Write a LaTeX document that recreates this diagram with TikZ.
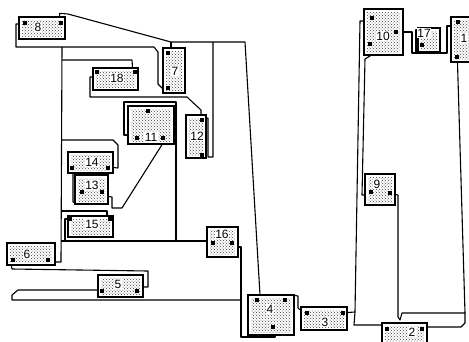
\documentclass[tikz,border=0pt]{standalone}
\usepackage{fontspec}
\setmainfont{Liberation Sans}
\usepackage{tikz}
\usetikzlibrary{patterns,backgrounds}

\begin{document}
\begin{tikzpicture}[x=1pt, y=-1pt,
		blk/.style={draw, line width=1.3pt, fill=white, inner sep=0pt,
								path picture={\fill[pattern=crosshatch dots, pattern color=black!75]
									([xshift=3pt,yshift=-3pt]path picture bounding box.north west) rectangle
									([xshift=-3pt,yshift=3pt]path picture bounding box.south east);}},
		pin/.style={fill=black, inner sep=0pt, minimum size=3.5pt},
		num/.style={fill=white, inner sep=0.6pt, font=\fontsize{12}{12}\selectfont},
		wire/.style={line width=1.1pt, line join=round},
	]
		\useasboundingbox (0,0) rectangle (469,341);

		% blocks
		\node[blk, minimum width=46pt, minimum height=22pt] (b8) at (42,28) {};
		\node[blk, minimum width=22pt, minimum height=45pt] (b7) at (174,70.5) {};
		\node[blk, minimum width=45pt, minimum height=22pt] (b18) at (115.5,79) {};
		\node[blk, minimum width=46pt, minimum height=38pt] (b11) at (151,125) {};
		\node[blk, minimum width=20pt, minimum height=43pt] (b12) at (196,136.5) {};
		\node[blk, minimum width=45pt, minimum height=21pt] (b14) at (90.5,162.5) {};
		\node[blk, minimum width=33pt, minimum height=29pt] (b13) at (91.5,189.5) {};
		\node[blk, minimum width=45pt, minimum height=21pt] (b15) at (90.5,226.5) {};
		\node[blk, minimum width=31pt, minimum height=30pt] (b16) at (222.5,242) {};
		\node[blk, minimum width=48pt, minimum height=22pt] (b6) at (31,254) {};
		\node[blk, minimum width=45pt, minimum height=22pt] (b5) at (120.5,286) {};
		\node[blk, minimum width=46pt, minimum height=40pt] (b4) at (271,315) {};
		\node[blk, minimum width=46pt, minimum height=23pt] (b3) at (324,318.5) {};
		\node[blk, minimum width=45pt, minimum height=23pt] (b2) at (404.5,334.5) {};
		\node[blk, minimum width=30pt, minimum height=31pt] (b9) at (380,189.5) {};
		\node[blk, minimum width=39pt, minimum height=46pt] (b10) at (383.5,32) {};
		\node[blk, minimum width=22pt, minimum height=24pt] (b17) at (429,40) {};
		\node[blk, minimum width=25pt, minimum height=45pt] (b1) at (463.5,39.5) {};

		% numbers
		\node[num] (l8) at (38,27) {8};
		\node[num] (l7) at (175,71) {7};
		\node[num] (l18) at (117,78) {18};
		\node[num] (l11) at (151,137) {11};
		\node[num] (l12) at (197,136) {12};
		\node[num] (l14) at (92,162) {14};
		\node[num] (l13) at (92,185) {13};
		\node[num] (l15) at (92,224) {15};
		\node[num] (l16) at (222,234) {16};
		\node[num] (l6) at (27,254) {6};
		\node[num] (l5) at (118,284) {5};
		\node[num] (l4) at (270,309) {4};
		\node[num] (l3) at (325,322) {3};
		\node[num] (l2) at (412,332) {2};
		\node[num] (l9) at (377,184) {9};
		\node[num] (l10) at (383,36) {10};
		\node[num] (l17) at (424,33) {17};
		\node[num] (l1) at (464,38) {1};

		% pins
		\node[pin] (p8a) at (25,23) {};
		\node[pin] (p8b) at (61,23) {};
		\node[pin] (p7a) at (168,53) {};
		\node[pin] (p7b) at (168,88) {};
		\node[pin] (p18a) at (97,72) {};
		\node[pin] (p18b) at (135,72) {};
		\node[pin] (p11a) at (148,111) {};
		\node[pin] (p11b) at (137,138) {};
		\node[pin] (p11c) at (163,138) {};
		\node[pin] (p12a) at (202,120) {};
		\node[pin] (p12b) at (202,155) {};
		\node[pin] (p14a) at (72,168) {};
		\node[pin] (p14b) at (108,168) {};
		\node[pin] (p13a) at (82,192) {};
		\node[pin] (p13b) at (102,192) {};
		\node[pin] (p15a) at (70,219) {};
		\node[pin] (p15b) at (110,219) {};
		\node[pin] (p16a) at (213,243) {};
		\node[pin] (p16b) at (232,243) {};
		\node[pin] (p6a) at (13,260) {};
		\node[pin] (p6b) at (48,260) {};
		\node[pin] (p5a) at (102,291) {};
		\node[pin] (p5b) at (137,291) {};
		\node[pin] (p4a) at (257,300) {};
		\node[pin] (p4b) at (285,300) {};
		\node[pin] (p4c) at (273,327) {};
		\node[pin] (p3a) at (307,313) {};
		\node[pin] (p3b) at (343,313) {};
		\node[pin] (p2a) at (387,329) {};
		\node[pin] (p2b) at (422,329) {};
		\node[pin] (p9a) at (371,192) {};
		\node[pin] (p9b) at (390,193) {};
		\node[pin] (p10a) at (372,18) {};
		\node[pin] (p10b) at (396,32) {};
		\node[pin] (p10c) at (370,44) {};
		\node[pin] (p17) at (422,45) {};
		\node[pin] (p1a) at (458,22) {};
		\node[pin] (p1b) at (457,57) {};

		% wires
		\begin{scope}[on background layer]
			\draw[wire] ([yshift=4pt]b8.west) -- (16,24) -- (16,47) -- (154,47) -- (158,52)
				-- (158,84) -- (162,88) -- (b7.west |- p7b);
			\draw[wire] ([xshift=-6pt]b8.north east) -- ++(0,-3) -- (68,14) -- (171,42)
				-- (245,42) -- (260,295) -- ([xshift=-11pt]b4.north);
			\draw[wire] (171,42) -- ([xshift=-3pt]b7.north);
			\draw[wire] (213,42) -- (213,157) -- (208,157) -- (208,118) -- ([yshift=18pt]b12.east);
			\draw[wire] (62,47) -- (61,262) -- ([yshift=-8pt]b6.east);
			\draw[wire] (62,60) -- (132,60) -- ([xshift=17pt]b18.north);
			\draw[wire] ([yshift=2pt]b18.west) -- (90,77) -- (90,97) -- (187,97) -- (201,110)
				-- ([xshift=5pt]b12.north);
			\draw[wire] ([yshift=-10pt]b11.west) -- (124,135) -- (124,102) -- (176,102) -- (176,241);
			\draw[wire] (61,241) -- ([yshift=1pt]b16.west);
			\draw[wire] ([xshift=11pt]b11.south) -- (122,208) -- (112,208) -- (112,197)
				-- ([yshift=-7pt]b13.east);
			\draw[wire] (61,140) -- (113,140) -- (118,145) -- (118,168) -- ([yshift=-5pt]b14.east);
			\draw[wire] ([xshift=-17.5pt]b14.south) -- (73,202) -- ([yshift=2pt]b13.south west);
			\draw[wire] (61,211) -- (107,211) -- ([xshift=16.5pt]b15.north);
			\draw[wire] ([yshift=7.5pt]b15.west) -- (65,219) -- (65,241);
			\draw[wire] ([xshift=5pt]b6.south west) -- (12,269) -- (148,271) -- (148,287)
				-- ([yshift=-1pt]b5.east);
			\draw[wire] ([yshift=-4pt]b5.west) -- (18,290) -- (12,295) -- (12,300) -- (241,300);
			\draw[wire] ([yshift=-5pt]b16.east) -- (241,247) -- (241,337) -- (275,337)
				-- ([xshift=4pt]b4.south);
			\draw[wire] ([yshift=-1pt]b4.north east) -- (298,296) -- (298,308) -- ([yshift=8.5pt]b3.west);
			\draw[wire] ([yshift=6pt]b3.east) -- (355,312) -- (360,21) -- ([yshift=11pt]b10.west);
			\draw[wire] (355,312) -- (354,325) -- ([yshift=9.5pt]b2.west);
			\draw[wire] ([xshift=-13pt]b10.south) -- (365,59) -- (362,195) -- ([yshift=-5.5pt]b9.west);
			\draw[wire] ([yshift=-5pt]b9.east) -- (398,195) -- (398,317) -- (400,320) -- (402,313)
				-- (465,313) -- (465,323) -- (461,327) -- ([yshift=7.5pt]b2.east);
			\draw[wire] ([xshift=-6pt]b1.south) -- (465,313);
			\draw[wire] (b10.east) -- (412,32) -- (412,53) -- (447,53) -- (447,26) -- ([yshift=13.5pt]b1.west);
			\draw[wire] ([yshift=10pt]b17.west) -- (416,30) -- (416,53);
		\end{scope}
\end{tikzpicture}
\end{document}
